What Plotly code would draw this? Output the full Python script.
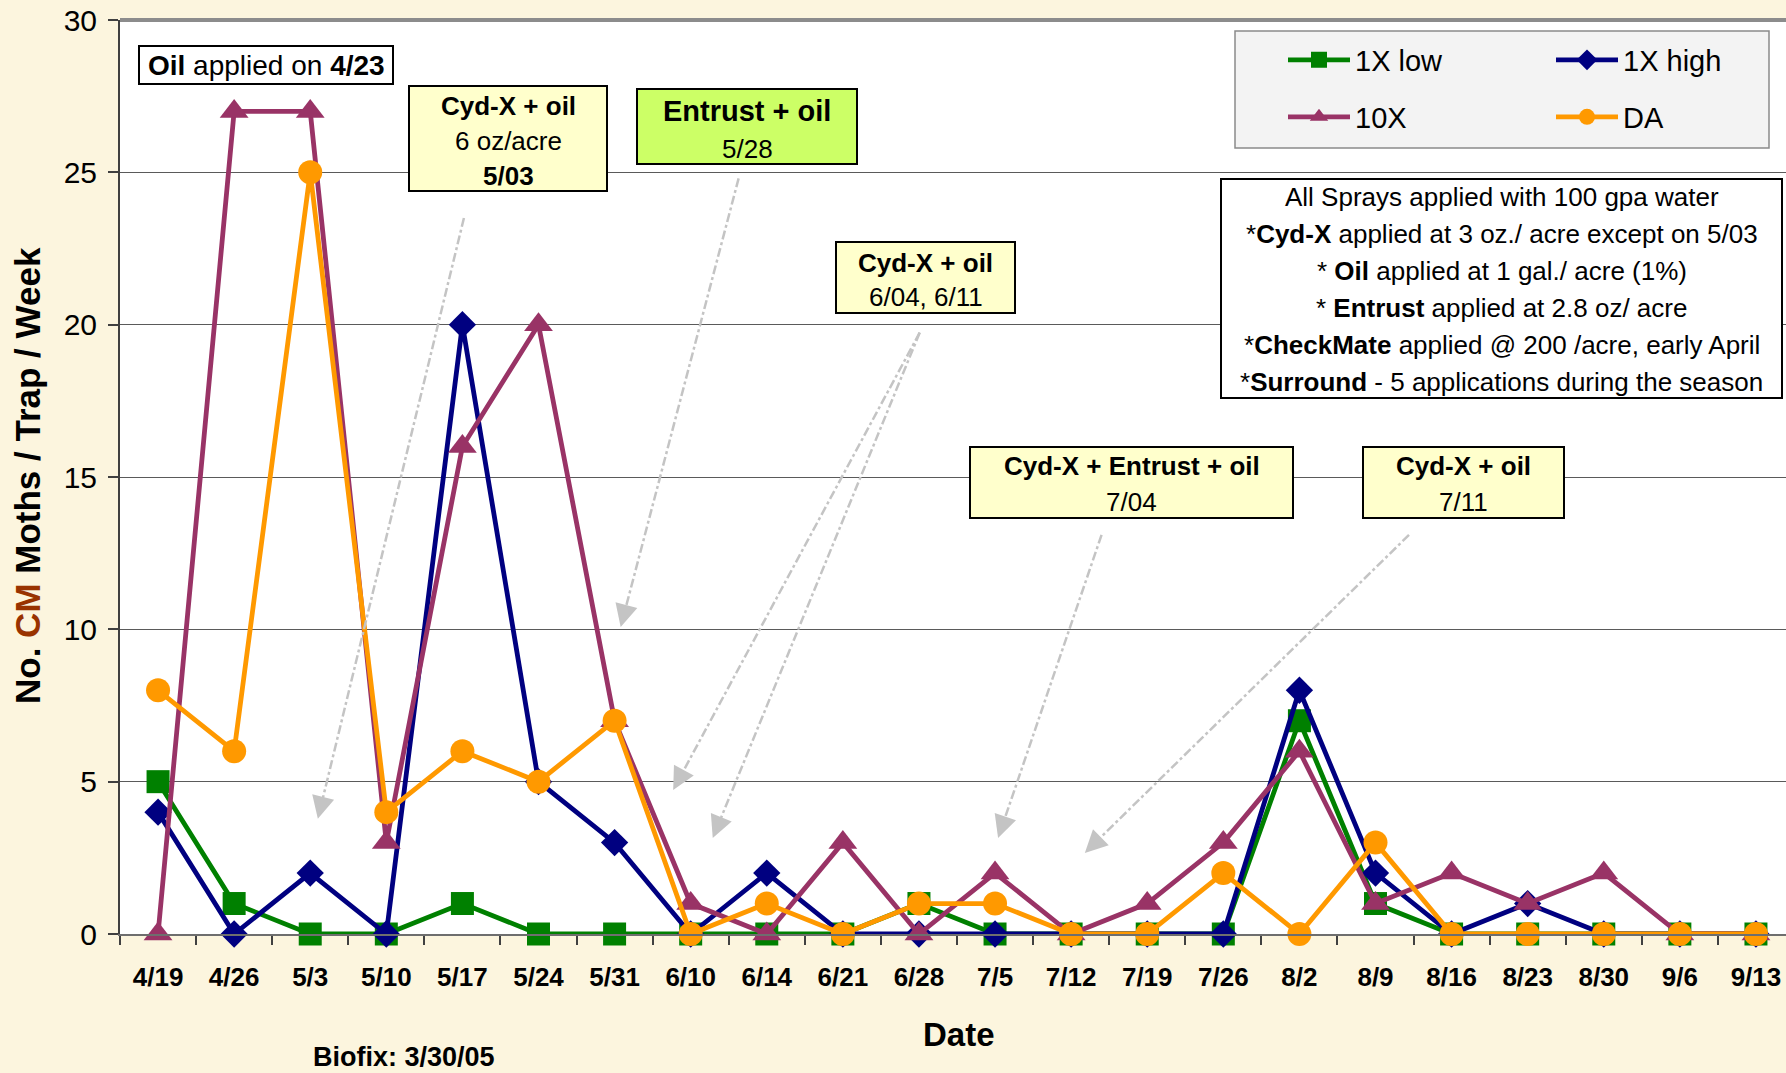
import math
import plotly.graph_objects as go

# ---------------- data ----------------
dates = ["4/19", "4/26", "5/3", "5/10", "5/17", "5/24", "5/31", "6/10", "6/14", "6/21", "6/28",
         "7/5", "7/12", "7/19", "7/26", "8/2", "8/9", "8/16", "8/23", "8/30", "9/6", "9/13"]
low_1x = [5, 1, 0, 0, 1, 0, 0, 0, 0, 0, 1, 0, 0, 0, 0, 7, 1, 0, 0, 0, 0, 0]
high_1x = [4, 0, 2, 0, 20, 5, 3, 0, 2, 0, 0, 0, 0, 0, 0, 8, 2, 0, 1, 0, 0, 0]
ten_x = [0, 27, 27, 3, 16, 20, 7, 1, 0, 3, 0, 2, 0, 1, 3, 6, 1, 2, 1, 2, 0, 0]
da = [8, 6, 25, 4, 6, 5, 7, 0, 1, 0, 1, 1, 0, 0, 2, 0, 3, 0, 0, 0, 0, 0]
series_names = ["1X low", "1X high", "10X", "DA"]
y_ticks = [0, 5, 10, 15, 20, 25, 30]

# ---------------- layout constants ----------------
W, H = 1786, 1073
L, R, T, B = 120, 0, 20, 139
PW, PH = W - L - R, H - T - B
X_RANGE = [-0.5, 21.5 - 8 / 76.1]
Y_RANGE = [0, 30]
PPX = PW / (X_RANGE[1] - X_RANGE[0])
PPY = PH / (Y_RANGE[1] - Y_RANGE[0])
FONT = "Liberation Sans, Arial, sans-serif"


def xp(px):
    return (px - L) / PW


def yp(py):
    return (H - B - py) / PH


fig = go.Figure()

styles = [
    dict(color="#008000", symbol="square", size=23),
    dict(color="#000080", symbol="diamond", size=21),
    dict(color="#993366", symbol="triangle-up", size=25),
    dict(color="#FF9900", symbol="circle", size=24),
]
legend_ids = ["legend", "legend2", "legend3", "legend4"]
legend_pos = [(1283, 60), (1551, 60), (1283, 117), (1551, 117)]
for name, vals, st, lg in zip(series_names, [low_1x, high_1x, ten_x, da], styles, legend_ids):
    fig.add_trace(go.Scatter(
        x=dates, y=vals, name=name, mode="lines+markers",
        line=dict(color=st["color"], width=4.8),
        marker=dict(color=st["color"], symbol=st["symbol"], size=st["size"]),
        legend=lg, cliponaxis=False,
    ))

shapes = []
annotations = []

# plot top border
shapes.append(dict(type="line", xref="paper", yref="paper", x0=0, x1=1, y0=1, y1=1,
                   line=dict(color="#8c8c8c", width=4), layer="above"))

# legend box
shapes.append(dict(type="rect", xref="paper", yref="paper", x0=xp(1235), x1=xp(1769),
                   y0=yp(148), y1=yp(31), fillcolor="#F3F3F3",
                   line=dict(color="#8a8a8a", width=1.5), layer="above"))

# text boxes: rect (left, top, right, bottom), fill, lines (text, y, size)
boxes = [
    dict(rect=(139, 46, 393, 84), fill="#FFFFFF",
         lines=[("<b>Oil</b> applied on <b>4/23</b>", 65, 28)]),
    dict(rect=(409, 86, 607, 191), fill="#FFFFCC",
         lines=[("<b>Cyd-X + oil</b>", 106, 26), ("6 oz/acre", 141, 26), ("<b>5/03</b>", 176, 26)]),
    dict(rect=(637, 89, 857, 164), fill="#CCFF66",
         lines=[("<b>Entrust + oil</b>", 111, 29), ("5/28", 149, 26)]),
    dict(rect=(836, 242, 1015, 313), fill="#FFFFCC",
         lines=[("<b>Cyd-X + oil</b>", 263, 26), ("6/04, 6/11", 297, 26)]),
    dict(rect=(970, 447, 1293, 518), fill="#FFFFCC",
         lines=[("<b>Cyd-X + Entrust + oil</b>", 466, 26), ("7/04", 502, 26)]),
    dict(rect=(1363, 447, 1564, 518), fill="#FFFFCC",
         lines=[("<b>Cyd-X + oil</b>", 466, 26), ("7/11", 502, 26)]),
    dict(rect=(1221, 179, 1782, 398), fill="#FFFFFF",
         lines=[("All Sprays applied with 100 gpa water", 197, 26),
                ("*<b>Cyd-X</b> applied at 3 oz./ acre except on 5/03", 234, 26),
                ("* <b>Oil</b> applied at 1 gal./ acre (1%)", 271, 26),
                ("* <b>Entrust</b> applied at 2.8 oz/ acre", 308, 26),
                ("*<b>CheckMate</b> applied @ 200 /acre, early April", 345, 26),
                ("*<b>Surround</b> - 5 applications during the season", 382, 26)]),
]
for bx in boxes:
    l, t, r, b = bx["rect"]
    shapes.append(dict(type="rect", xref="paper", yref="paper", x0=xp(l), x1=xp(r),
                       y0=yp(b), y1=yp(t), fillcolor=bx["fill"],
                       line=dict(color="#000000", width=2), layer="above"))
    cx = (l + r) / 2
    for text, y, size in bx["lines"]:
        annotations.append(dict(xref="paper", yref="paper", x=xp(cx), y=yp(y), text=text,
                                showarrow=False, xanchor="center", yanchor="middle",
                                font=dict(family=FONT, size=size, color="#000000")))

# dash-dot pointer arrows (start index/value -> end index/value)
arrows = [
    ((4.02, 23.5), (2.10, 3.78)),
    ((7.63, 24.8), (6.08, 10.08)),
    ((10.01, 19.74), (6.77, 4.73)),
    ((10.01, 19.74), (7.29, 3.15)),
    ((12.4, 13.1), (11.04, 3.15)),
    ((16.44, 13.1), (12.18, 2.66)),
]
for (x0, y0), (x1, y1) in arrows:
    dxp = (x1 - x0) * PPX
    dyp = -(y1 - y0) * PPY
    n = math.hypot(dxp, dyp)
    ux, uy = dxp / n, dyp / n
    back = 14
    xs = x1 - ux * back / PPX
    ys = y1 + uy * back / PPY
    shapes.append(dict(type="line", xref="x", yref="y", x0=x0, y0=y0, x1=xs, y1=ys,
                       line=dict(color="#C4C4C4", width=2.5, dash="dashdot"), layer="above"))
    annotations.append(dict(xref="x", yref="y", x=x1, y=y1, text="", showarrow=True,
                            ax=-ux * 20, ay=-uy * 20, arrowhead=2, arrowsize=1.8,
                            arrowwidth=2.5, arrowcolor="#C4C4C4", standoff=0))

# axis titles and note
annotations.append(dict(xref="paper", yref="paper", x=xp(27), y=yp(476), textangle=-90,
                        text="<b>No. <span style='color:#993300'>CM</span> Moths / Trap / Week</b>",
                        showarrow=False, xanchor="center", yanchor="middle",
                        font=dict(family=FONT, size=35, color="#000000")))
annotations.append(dict(xref="paper", yref="paper", x=xp(959), y=yp(1034), text="<b>Date</b>",
                        showarrow=False, xanchor="center", yanchor="middle",
                        font=dict(family=FONT, size=33, color="#000000")))
annotations.append(dict(xref="paper", yref="paper", x=xp(404), y=yp(1057), text="<b>Biofix: 3/30/05</b>",
                        showarrow=False, xanchor="center", yanchor="middle",
                        font=dict(family=FONT, size=27, color="#000000")))

legends = {}
for lg, (lx, ly) in zip(legend_ids, legend_pos):
    legends[lg] = dict(x=xp(lx), y=yp(ly), xanchor="left", yanchor="middle",
                       orientation="h", bgcolor="rgba(0,0,0,0)", borderwidth=0,
                       itemwidth=62, itemclick=False, itemdoubleclick=False,
                       font=dict(family=FONT, size=29, color="#000000"))

fig.update_layout(
    width=W, height=H,
    margin=dict(l=L, r=R, t=T, b=B, pad=0, autoexpand=False),
    paper_bgcolor="#FCF5DE",
    plot_bgcolor="#FFFFFF",
    font=dict(family=FONT, color="#000000"),
    showlegend=True,
    xaxis=dict(type="category", range=X_RANGE, showgrid=False, zeroline=False,
               showline=True, linecolor="#6e6e6e", linewidth=2,
               ticks="outside", tickson="boundaries", ticklen=9, tickcolor="#404040", tickwidth=1.5,
               tickfont=dict(family=FONT, size=26, color="#000000", weight="bold"),
               ticklabelstandoff=19),
    yaxis=dict(range=Y_RANGE, tickvals=y_ticks, showgrid=True, gridcolor="#5a5a5a", gridwidth=1,
               zeroline=False, showline=True, linecolor="#404040", linewidth=2,
               ticks="outside", ticklen=10, tickcolor="#404040", tickwidth=1.5,
               tickfont=dict(family=FONT, size=30, color="#000000"), ticklabelstandoff=5),
    shapes=shapes,
    annotations=annotations,
    **legends,
)

fig.write_html("out.html", config={"displayModeBar": False},
               post_script="document.body.style.margin='0';document.body.style.overflow='hidden';")
